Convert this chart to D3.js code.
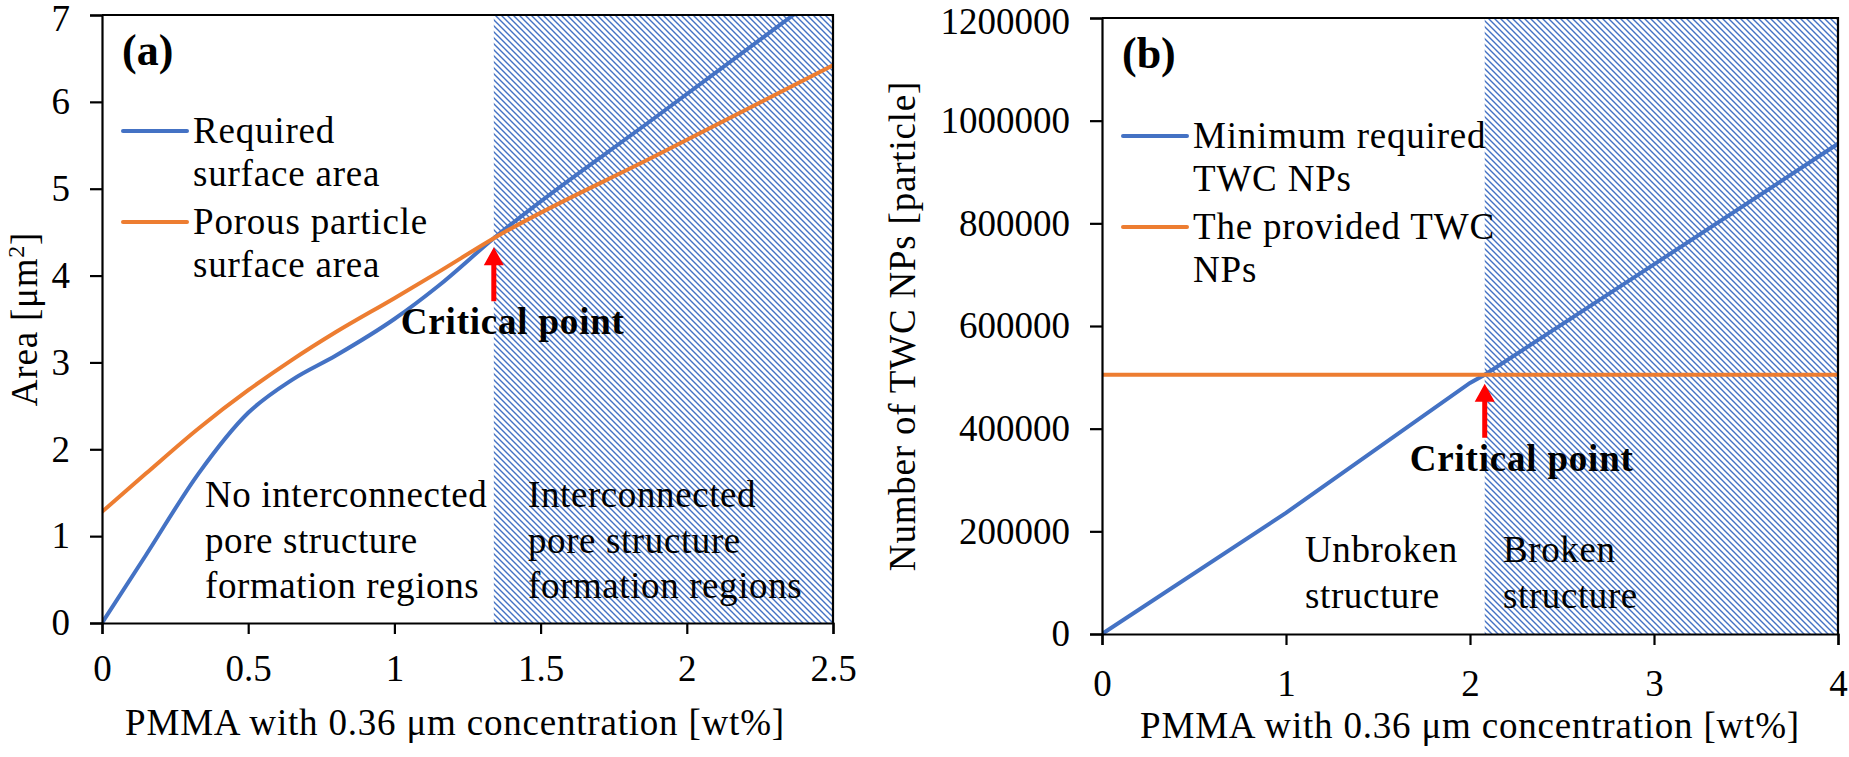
<!DOCTYPE html>
<html>
<head>
<meta charset="utf-8">
<script src="https://cdn.jsdelivr.net/npm/d3@7"></script>
<style>
  body { margin: 0; background: #fff; }
  text { font-family: "Liberation Serif", "Times New Roman", serif; fill: #000; }
</style>
</head>
<body>
<div id="chart-area"></div>
<script>
// ---- data, panel (a)
var concA = [0, 0.15, 0.33, 0.5, 0.65, 0.8, 1.0, 1.15, 1.34, 1.9, 2.5];
var requiredArea = [0, 0.78, 1.72, 2.42, 2.8, 3.08, 3.5, 3.88, 4.43, 5.84, 7.34];
var porousArea = [1.28, 1.72, 2.24, 2.68, 3.03, 3.35, 3.74, 4.04, 4.43, 5.39, 6.42];
var ticksXA = [0, 0.5, 1, 1.5, 2, 2.5];
var ticksYA = [0, 1, 2, 3, 4, 5, 6, 7];
var critA = 1.34;

// ---- data, panel (b)
var concB = [0, 1, 2, 2.08, 3, 4];
var minRequired = [0, 236000, 489000, 505000, 720000, 955000];
var providedNPs = [505000, 505000, 505000, 505000, 505000, 505000];
var ticksXB = [0, 1, 2, 3, 4];
var ticksYB = [0, 200000, 400000, 600000, 800000, 1000000, 1200000];
var critB = 2.08;

var blue = "#4472C4", orange = "#ED7D31";
var fs = 37;

var svg = d3.select("#chart-area")
    .append("svg")
    .attr("width", 1849)
    .attr("height", 757);

var defs = svg.append("defs");
var pat = defs.append("pattern")
    .attr("id", "hatch")
    .attr("patternUnits", "userSpaceOnUse")
    .attr("width", 6)
    .attr("height", 6);
pat.append("path")
    .attr("d", "M-1,-1L7,7M-1,5L1,7M5,-1L7,1")
    .attr("stroke", blue)
    .attr("stroke-width", 1.4)
    .attr("fill", "none");

// draws one panel; cfg has box + data
function panel(cfg) {
    var g = svg.append("g");
    var x = d3.scaleLinear().domain(cfg.xDomain).range([cfg.left, cfg.right]);
    var y = d3.scaleLinear().domain(cfg.yDomain).range([cfg.bottom, cfg.top]);

    defs.append("clipPath").attr("id", cfg.id + "-clip")
        .append("rect")
        .attr("x", cfg.left).attr("y", cfg.top)
        .attr("width", cfg.right - cfg.left).attr("height", cfg.bottom - cfg.top);

    // hatched region after the critical point
    g.append("rect")
        .attr("x", x(cfg.crit))
        .attr("y", cfg.top)
        .attr("width", x(cfg.xDomain[1]) - x(cfg.crit))
        .attr("height", cfg.bottom - cfg.top)
        .attr("fill", "url(#hatch)");

    var line = d3.line()
        .x(function (d) { return x(d[0]); })
        .y(function (d) { return y(d[1]); })
        .curve(cfg.curve);

    var plot = g.append("g").attr("clip-path", "url(#" + cfg.id + "-clip)");
    cfg.series.forEach(function (s) {
        plot.append("path")
            .datum(cfg.xs.map(function (v, i) { return [v, s.values[i]]; }))
            .attr("d", line)
            .attr("fill", "none")
            .attr("stroke", s.color)
            .attr("stroke-width", 4)
            .attr("stroke-linecap", "round");
    });

    // axes
    var xAxis = g.append("g")
        .attr("transform", "translate(0," + cfg.bottom + ")")
        .call(d3.axisBottom(x).tickValues(cfg.xTicks).tickSizeOuter(0)
            .tickSize(11).tickPadding(cfg.xPad).tickFormat(d3.format("")));
    var yAxis = g.append("g")
        .attr("transform", "translate(" + cfg.left + ",0)")
        .call(d3.axisLeft(y).tickValues(cfg.yTicks).tickSizeOuter(0)
            .tickSize(12).tickPadding(20).tickFormat(d3.format("d")));
    [xAxis, yAxis].forEach(function (a) {
        a.select(".domain").attr("stroke", "#000").attr("stroke-width", 2.2);
        a.selectAll(".tick line").attr("stroke", "#000").attr("stroke-width", 2.2);
        a.selectAll(".tick text").attr("font-size", fs + "px")
            .attr("font-family", "Liberation Serif").attr("fill", "#000");
    });
    // keep top labels inside the picture
    yAxis.selectAll(".tick text").attr("dy", function (d) {
        return d === cfg.yDomain[1] ? "0.42em" : "0.32em";
    });

    // top and right frame
    g.append("path")
        .attr("d", "M" + cfg.left + "," + cfg.top + "H" + cfg.right + "V" + cfg.bottom)
        .attr("fill", "none")
        .attr("stroke", "#000")
        .attr("stroke-width", 2.2);

    // axis titles
    g.append("text")
        .attr("x", cfg.xTitleX)
        .attr("y", cfg.xTitleY)
        .attr("text-anchor", "middle")
        .attr("font-size", fs + "px")
        .attr("letter-spacing", "0.8px")
        .text("PMMA with 0.36 \u03bcm concentration [wt%]");

    var yt = g.append("text")
        .attr("transform", "translate(" + cfg.yTitleX + "," + ((cfg.top + cfg.bottom) / 2) + ") rotate(-90)")
        .attr("text-anchor", "middle")
        .attr("font-size", fs + "px")
        .attr("letter-spacing", "0.8px");
    cfg.yTitle(yt);

    // panel letter
    g.append("text")
        .attr("x", cfg.left + 20)
        .attr("y", cfg.top + 50)
        .attr("font-size", "44px")
        .attr("font-weight", "bold")
        .text(cfg.letter);

    // legend
    cfg.series.forEach(function (s, i) {
        var ly = cfg.legendY + i * 91;
        g.append("line")
            .attr("x1", cfg.left + 21).attr("x2", cfg.left + 85)
            .attr("y1", ly).attr("y2", ly)
            .attr("stroke", s.color)
            .attr("stroke-width", 4)
            .attr("stroke-linecap", "round");
        s.label.forEach(function (t, j) {
            g.append("text")
                .attr("x", cfg.left + 91)
                .attr("y", ly + 12 + j * 43)
                .attr("font-size", fs + "px")
                .attr("letter-spacing", "0.8px")
                .text(t);
        });
    });

    // critical point arrow and label
    var ax = x(cfg.crit);
    var tip = y(cfg.critY) + 9;
    g.append("path")
        .attr("d", "M" + (ax - 2.5) + "," + (tip + 54) + "V" + (tip + 18) + "H" + (ax - 10) +
            "L" + ax + "," + tip + "L" + (ax + 10) + "," + (tip + 18) + "H" + (ax + 2.5) + "V" + (tip + 54) + "Z")
        .attr("fill", "#FF0000");
    g.append("text")
        .attr("x", ax + cfg.critTextDx)
        .attr("y", tip + 87)
        .attr("font-size", fs + "px")
        .attr("font-weight", "bold")
        .attr("letter-spacing", "0.8px")
        .text("Critical point");

    // region labels
    cfg.regions.forEach(function (r) {
        r.lines.forEach(function (t, j) {
            g.append("text")
                .attr("x", r.x)
                .attr("y", r.y + j * 45.5)
                .attr("font-size", fs + "px")
                .attr("letter-spacing", "0.6px")
                .text(t);
        });
    });
}

panel({
    id: "a", letter: "(a)",
    left: 102, right: 833, top: 15, bottom: 623,
    xDomain: [0, 2.5], yDomain: [0, 7],
    xTicks: ticksXA, yTicks: ticksYA, xPad: 21,
    xs: concA, crit: critA, critY: 4.43, critTextDx: -93,
    curve: d3.curveMonotoneX,
    series: [
        { values: requiredArea, color: blue, label: ["Required", "surface area"] },
        { values: porousArea, color: orange, label: ["Porous particle", "surface area"] }
    ],
    legendY: 131,
    xTitleX: 455, xTitleY: 735,
    yTitleX: 37,
    yTitle: function (t) {
        t.append("tspan").text("Area [\u03bcm");
        t.append("tspan").attr("font-size", "24px").attr("dy", "-13").text("2");
        t.append("tspan").attr("dy", "13").text("]");
    },
    regions: [
        { x: 205, y: 507, lines: ["No interconnected", "pore structure", "formation regions"] },
        { x: 528, y: 507, lines: ["Interconnected", "pore structure", "formation regions"] }
    ]
});

panel({
    id: "b", letter: "(b)",
    left: 1102, right: 1838, top: 18, bottom: 634,
    xDomain: [0, 4], yDomain: [0, 1200000],
    xTicks: ticksXB, yTicks: ticksYB, xPad: 25,
    xs: concB, crit: critB, critY: 505000, critTextDx: -75,
    curve: d3.curveLinear,
    series: [
        { values: minRequired, color: blue, label: ["Minimum required", "TWC NPs"] },
        { values: providedNPs, color: orange, label: ["The provided TWC", "NPs"] }
    ],
    legendY: 136,
    xTitleX: 1470, xTitleY: 738,
    yTitleX: 915,
    yTitle: function (t) { t.text("Number of TWC NPs [particle]"); },
    regions: [
        { x: 1305, y: 562, lines: ["Unbroken", "structure"] },
        { x: 1503, y: 562, lines: ["Broken", "structure"] }
    ]
});
</script>
</body>
</html>
